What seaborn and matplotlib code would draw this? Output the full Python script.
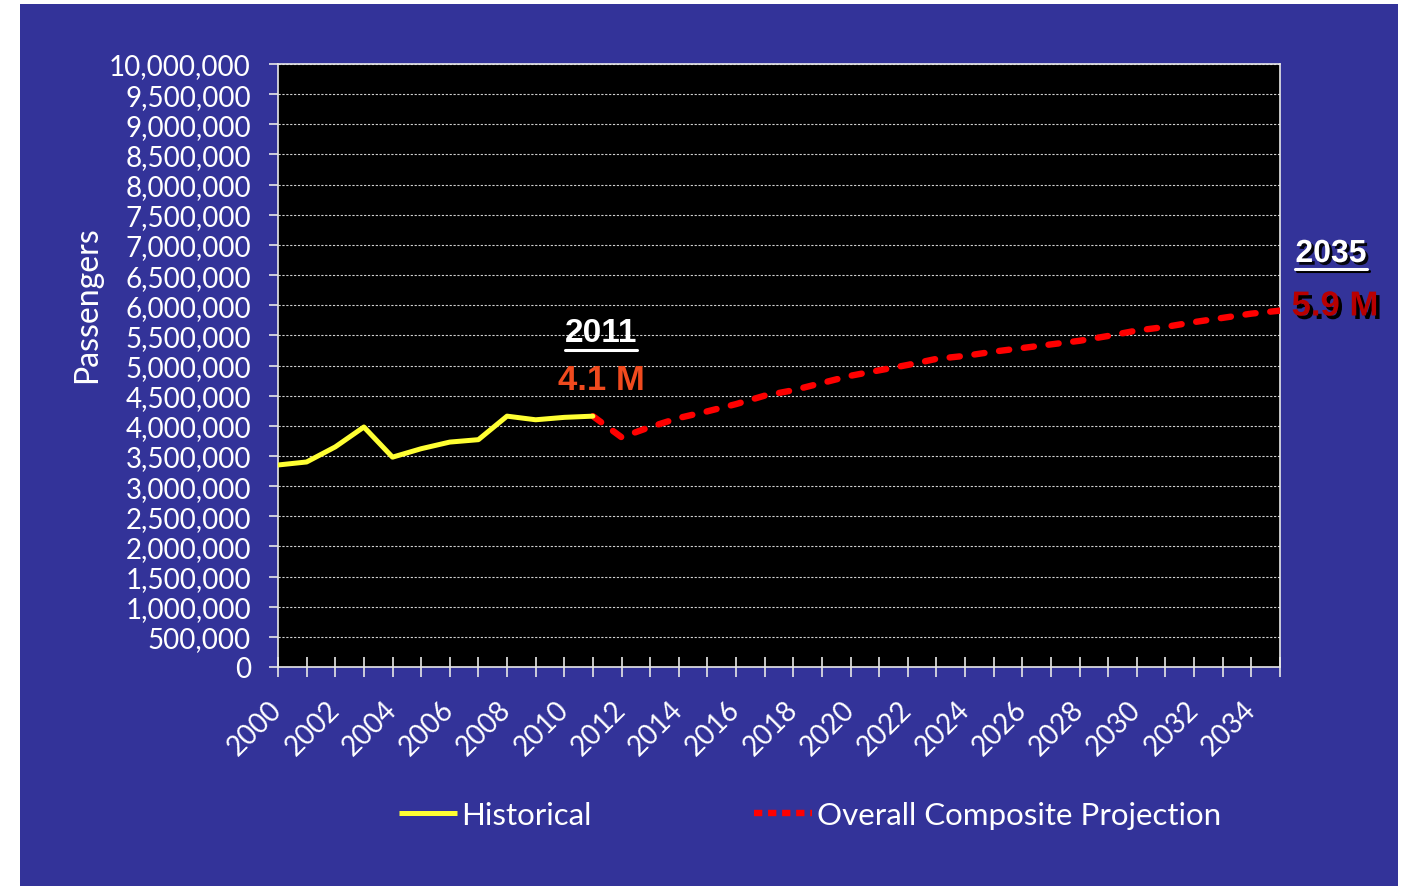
import matplotlib
matplotlib.use('Agg')
import matplotlib.pyplot as plt
import seaborn as sns
import pandas as pd
from matplotlib.patches import Rectangle
from matplotlib.lines import Line2D
import matplotlib.patheffects as pe
from matplotlib.ticker import FuncFormatter, MultipleLocator

# ---------------- data ----------------
hist_years = [2000, 2001, 2002, 2003, 2004, 2005, 2006, 2007, 2008, 2009, 2010, 2011]
hist_values = [3350000, 3400000, 3650000, 3980000, 3480000, 3620000, 3730000, 3770000,
               4160000, 4100000, 4140000, 4160000]
proj_years = list(range(2011, 2036))
proj_values = [4160000, 3810000, 3980000, 4130000, 4240000, 4360000, 4500000, 4590000,
               4710000, 4830000, 4920000, 5010000, 5110000, 5160000, 5230000, 5290000,
               5350000, 5410000, 5490000, 5580000, 5640000, 5720000, 5790000, 5860000,
               5910000]
series_names = ["Historical", "Overall Composite Projection"]
year_ticks = list(range(2000, 2036))
annot_2011 = ("2011", "4.1 M")
annot_2035 = ("2035", "5.9 M")
y_label = "Passengers"

# ---------------- style ----------------
sns.set_theme(style="dark")
BASE_FONT = ['Lato', 'DejaVu Sans']
plt.rcParams['font.family'] = BASE_FONT

BLUE = '#333399'
W, H = 1404, 887
fig = plt.figure(figsize=(W / 100, H / 100), dpi=100, facecolor='white')
fig.patches.append(Rectangle((20 / W, 0), (1398 - 20) / W, 1 - 5 / H,
                             transform=fig.transFigure, facecolor=BLUE,
                             edgecolor='none', zorder=-10))

ax = fig.add_axes([278 / W, 1 - 668 / H, (1280 - 278) / W, (668 - 65) / H])
ax.set_facecolor('black')

df_hist = pd.DataFrame({'year': hist_years, 'value': hist_values})
df_proj = pd.DataFrame({'year': proj_years, 'value': proj_values})

sns.lineplot(data=df_proj, x='year', y='value', ax=ax, color='#FF0000',
             linewidth=4.6, dashes=False, zorder=3)
proj_line = ax.lines[-1]
proj_line.set_linestyle((0, (1.6, 2.3)))
proj_line.set_dash_capstyle('round')

sns.lineplot(data=df_hist, x='year', y='value', ax=ax, color='#FFFF33',
             linewidth=3.6, zorder=4)
ax.lines[-1].set_solid_capstyle('round')

ax.set_xlim(2000, 2035)
ax.set_ylim(0, 10000000)
ax.yaxis.set_major_locator(MultipleLocator(500000))
ax.yaxis.set_major_formatter(FuncFormatter(lambda v, p: f"{v:,.0f}"))
ax.set_xticks(year_ticks)
ax.set_xticklabels([str(y) if (y % 2 == 0 and y < 2035) else '' for y in year_ticks])

ax.grid(axis='y', color='#D0D0D0', linestyle=(0, (2, 1.5)), linewidth=0.8)
ax.grid(axis='x', visible=False)
ax.set_axisbelow(True)

for s in ax.spines.values():
    s.set_visible(True)
    s.set_color('#E8E8E8')
    s.set_linewidth(1.2)

ax.tick_params(axis='y', which='major', direction='out', length=6.5, width=1.2,
               color='#E8E8E8', labelcolor='white', labelsize=20, pad=13, left=True)
ax.tick_params(axis='x', which='major', direction='inout', length=14, width=1.2,
               color='#E8E8E8', labelcolor='white', labelsize=20, pad=20, bottom=True)
for lab in ax.get_xticklabels():
    lab.set_rotation(45)
    lab.set_ha('right')
    lab.set_va('center')
    lab.set_rotation_mode('anchor')
ax.set_xlabel('')
ax.set_ylabel('')

fig.text(87 / W, 1 - 305 / H, y_label, rotation=90, ha='center', va='center',
         color='white', fontsize=23)

# legend
handles = [Line2D([], [], color='#FFFF33', linewidth=3.6, solid_capstyle='butt'),
           Line2D([], [], color='#FF0000', linewidth=4.6, linestyle=(0, (1.3, 0.9)),
                  dash_capstyle='butt')]
leg = fig.legend(handles, series_names, loc='center', ncol=2,
                 bbox_to_anchor=(810 / W, 1 - 816 / H), bbox_transform=fig.transFigure,
                 frameon=False, fontsize=22.5, handlelength=1.85, handletextpad=0.15,
                 columnspacing=5.2)
for t in leg.get_texts():
    t.set_color('white')

# annotations
BOLD = ['Liberation Sans', 'DejaVu Sans']
t1 = fig.text(601 / W, 1 - 334 / H, annot_2011[0], ha='center', va='center',
              color='white', fontsize=24, fontweight='bold', family=BOLD)
fig.text(601 / W, 1 - 381 / H, annot_2011[1], ha='center', va='center',
         color='#F04A1E', fontsize=25, fontweight='bold', family=BOLD)
shadow = [pe.withSimplePatchShadow(offset=(2, -2), shadow_rgbFace='black', alpha=0.9)]
t2 = fig.text(1331 / W, 1 - 255 / H, annot_2035[0], ha='center', va='center',
              color='white', fontsize=23, fontweight='bold', family=BOLD,
              path_effects=shadow)
fig.text(1335 / W, 1 - 307 / H, annot_2035[1], ha='center', va='center',
         color='#B80000', fontsize=25, fontweight='bold', family=BOLD,
         path_effects=[pe.withSimplePatchShadow(offset=(2.5, -2.5), shadow_rgbFace='black', alpha=1)])

# underlines
fig.canvas.draw()
r = fig.canvas.get_renderer()
for t, uy, with_shadow in [(t1, 351, False), (t2, 270, True)]:
    bb = t.get_window_extent(r)
    if with_shadow:
        fig.lines.append(Line2D([(bb.x0 + 2) / W, (bb.x1 + 2) / W],
                                [1 - (uy + 2) / H, 1 - (uy + 2) / H],
                                transform=fig.transFigure, color='black', linewidth=2.2))
    fig.lines.append(Line2D([bb.x0 / W, bb.x1 / W], [1 - uy / H, 1 - uy / H],
                            transform=fig.transFigure, color='white', linewidth=2.2))

fig.savefig('out.png', dpi=100, facecolor=fig.get_facecolor())
